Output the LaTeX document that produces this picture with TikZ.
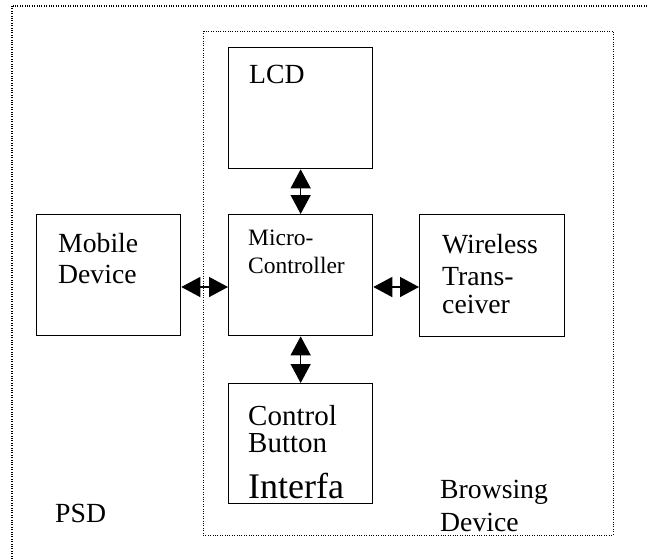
\documentclass[tikz,border=0pt]{standalone}
\usepackage{fontspec}
\setmainfont{Liberation Serif}
\usetikzlibrary{arrows.meta}
\tikzset{
  blockbox/.style={draw=black, line width=1.3pt, minimum width=144pt, minimum height=121pt, inner sep=0pt, anchor=north west},
  txt/.style={anchor=base west, inner sep=0pt, font=\fontsize{27.7}{31}\selectfont},
  ctltxt/.style={anchor=base west, inner sep=0pt, font=\fontsize{29}{31}\selectfont},
  smalltxt/.style={anchor=base west, inner sep=0pt, font=\fontsize{23.5}{26}\selectfont},
  bigtxt/.style={anchor=base west, inner sep=0pt, font=\fontsize{36}{40}\selectfont},
  frame/.style={draw=black, line width=1.1pt, dash pattern=on 1pt off 1.4pt},
  biarrow/.style={line width=1.4pt, {Triangle[length=19pt,width=20pt]}-{Triangle[length=19pt,width=20pt]}}
}
\begin{document}
\begin{tikzpicture}[x=1pt,y=-1pt]
\useasboundingbox (0,0) rectangle (647,558);
\fill[white] (0,0) rectangle (647,558);
\begin{scope}
\clip (0,0) rectangle (647,558);
% outer PSD frame (runs past the page edge)
\draw[frame] (12,6) rectangle (670,580);
\end{scope}

% blocks
\node[blockbox] (lcd) at (228,47) {};
\node[blockbox] (mobile) at (36,214) {};
\node[blockbox] (micro) at (228,214) {};
\node[blockbox, minimum width=145pt, minimum height=122pt] (wireless) at (419,214) {};
\node[blockbox, minimum height=120pt] (control) at (228,383) {};

% connectors
\draw[biarrow] (lcd.south) -- (micro.north);
\draw[biarrow] (micro.south) -- (control.north);
\draw[biarrow] (mobile.east |- 0,287) coordinate (mr) -- (micro.west |- 0,287) coordinate (ml);
\draw[biarrow] (micro.east |- 0,287) coordinate (mr2) -- (wireless.west |- 0,287) coordinate (wl);

% browsing device frame
\draw[frame, line width=0.9pt] (203,31) rectangle (613,535);

% labels
\node[txt] (tlcd) at (249,83) {LCD};
\node[txt] (tmob1) at (58,252) {Mobile};
\node[txt] (tmob2) at (58,283) {Device};
\node[smalltxt] (tmic1) at (248,245) {Micro-};
\node[smalltxt] (tmic2) at (248,273) {Controller};
\node[txt] (twir1) at (442,253) {Wireless};
\node[txt] (twir2) at (442,285) {Trans-};
\node[txt] (twir3) at (442,313) {ceiver};
\node[ctltxt] (tcon1) at (248,425) {Control};
\node[ctltxt] (tcon2) at (248,452) {Button};
\node[bigtxt] (tcon3) at (248,498) {Interfa};
\node[txt] (tpsd) at (55,522) {PSD};
\node[txt] (tbr1) at (440,498) {Browsing};
\node[txt] (tbr2) at (440,531) {Device};
\end{tikzpicture}
\end{document}
